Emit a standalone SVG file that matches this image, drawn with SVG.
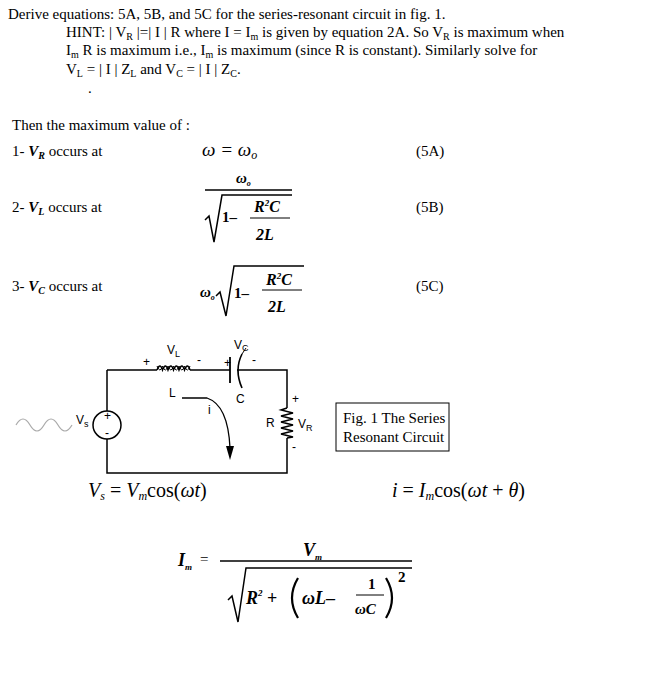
<svg xmlns="http://www.w3.org/2000/svg" width="666" height="679" viewBox="0 0 666 679">
<style>
.t{font-family:"Liberation Serif",serif;font-size:15px;fill:#000}
.m{font-family:"Liberation Serif",serif;font-style:italic;font-weight:bold;fill:#000}
.n{font-family:"Liberation Serif",serif;font-style:italic;font-weight:normal;fill:#000}
.s{font-family:"Liberation Sans",sans-serif;font-size:12px;fill:#000}
.w{stroke:#000;stroke-width:1.5;fill:none}
</style>
<rect width="666" height="679" fill="#fff"/>
<g id="text">
<text class="t" x="8" y="19">Derive equations: 5A, 5B, and 5C for the series-resonant circuit in fig. 1.</text>
<text class="t" x="66" y="37">HINT: | V<tspan font-size="10" dy="3">R</tspan><tspan dy="-3"> |=| I | R where I = I</tspan><tspan font-size="10" dy="3">m</tspan><tspan dy="-3"> is given by equation 2A. So V</tspan><tspan font-size="10" dy="3">R</tspan><tspan dy="-3"> is maximum when</tspan></text>
<text class="t" x="66" y="55">I<tspan font-size="10" dy="3">m</tspan><tspan dy="-3"> R is maximum i.e., I</tspan><tspan font-size="10" dy="3">m</tspan><tspan dy="-3"> is maximum (since R is constant). Similarly solve for</tspan></text>
<text class="t" x="66" y="74">V<tspan font-size="10" dy="3">L</tspan><tspan dy="-3"> = | I | Z</tspan><tspan font-size="10" dy="3">L</tspan><tspan dy="-3"> and V</tspan><tspan font-size="10" dy="3">C</tspan><tspan dy="-3"> = | I | Z</tspan><tspan font-size="10" dy="3">C</tspan><tspan dy="-3">.</tspan></text>
<text class="t" x="88" y="93">.</text>
<text class="t" x="12" y="130">Then the maximum value of :</text>
<text class="t" x="12" y="156">1- <tspan font-style="italic" font-weight="bold">V<tspan font-size="10" dy="3">R</tspan></tspan><tspan dy="-3"> occurs at</tspan></text>
<text class="t" x="12" y="212">2- <tspan font-style="italic" font-weight="bold">V<tspan font-size="10" dy="3">L</tspan></tspan><tspan dy="-3"> occurs at</tspan></text>
<text class="t" x="12" y="291">3- <tspan font-style="italic" font-weight="bold">V<tspan font-size="10" dy="3">C</tspan></tspan><tspan dy="-3"> occurs at</tspan></text>
<text class="t" x="416" y="156">(5A)</text>
<text class="t" x="416" y="212">(5B)</text>
<text class="t" x="416" y="291">(5C)</text>
</g>
<g id="eqA"><text class="n" x="202" y="156" font-size="19">ω = ω<tspan font-size="12" dy="3">o</tspan></text></g>
<g id="eqB">
<text class="m" x="236" y="183" font-size="15">ω<tspan font-size="8" dy="3">o</tspan></text>
<line x1="205" y1="190" x2="292" y2="190" stroke="#000" stroke-width="1.3"/>
<polyline points="205,220 209,216 214,242 222,195 292,195" class="w" stroke-width="1.2"/>
<text class="t" x="222" y="222" font-size="18" font-weight="bold">1–</text>
<text class="m" x="254" y="212" font-size="16">R<tspan font-size="9" dy="-6">2</tspan><tspan dy="6">C</tspan></text>
<line x1="250" y1="218" x2="290" y2="218" stroke="#000" stroke-width="1"/>
<text class="m" x="256" y="240" font-size="16">2L</text>
</g>
<g id="eqC">
<text class="m" x="200" y="297" font-size="15">ω<tspan font-size="8" dy="3">o</tspan></text>
<polyline points="216,296 220,292 226,316 234,266 304,266" class="w" stroke-width="1.2"/>
<text class="t" x="234" y="298" font-size="18" font-weight="bold">1–</text>
<text class="m" x="266" y="285" font-size="16">R<tspan font-size="9" dy="-6">2</tspan><tspan dy="6">C</tspan></text>
<line x1="262" y1="290" x2="302" y2="290" stroke="#000" stroke-width="1"/>
<text class="m" x="268" y="312" font-size="16">2L</text>
</g>
<g id="connectors">
<path class="w" d="M107,370 H157 M190,370 H230 M237,370 H287 V408 M287,438 V473 H107 V439 M107,411 V370"/>
<path class="w" d="M157,370 q3,-8 5.5,0 q3,-8 5.5,0 q3,-8 5.5,0 q3,-8 5.5,0 q3,-8 5.5,0 q3,-8 5.5,0" stroke-width="1.3"/>
<path d="M157,366 q3,8 5.5,0 q3,8 5.5,0 q3,8 5.5,0 q3,8 5.5,0 q3,8 5.5,0 q3,8 5.5,0" fill="none" stroke="#000" stroke-width="1"/>
<line x1="230" y1="357" x2="230" y2="383" stroke="#000" stroke-width="1.8"/>
<path d="M242,354 Q234,370 242,388" fill="none" stroke="#000" stroke-width="1.6"/>
<path d="M242,354 L246,348" stroke="#000" stroke-width="1"/>
<polyline class="w" stroke-width="1.3" points="287,408 281,410 293,413 281,416 293,419 281,422 293,425 281,428 293,431 281,434 293,437 287,438"/>
<circle cx="107" cy="425" r="14" fill="#fff" stroke="#000" stroke-width="1.5"/>
<path d="M182,398 H207 Q228,405 230,448" fill="none" stroke="#000" stroke-width="1.3"/>
<path d="M226,446 L230,460 L234,446 Z" fill="#000"/>
<path d="M16,425 q7,-12 14,0 t14,0 t14,0 t14,0" fill="none" stroke="#aaa" stroke-width="1.2"/>
</g>
<g id="labels">
<text class="s" x="104" y="420" font-size="9">+</text>
<text class="s" x="105" y="437" font-size="9">-</text>
<text class="s" x="76" y="424">V<tspan font-size="9" dy="3">s</tspan></text>
<text class="s" x="143" y="366">+</text>
<text class="s" x="167" y="354">V<tspan font-size="9" dy="3">L</tspan></text>
<text class="s" x="197" y="364">-</text>
<text class="s" x="224" y="367" font-size="10">+</text>
<text class="s" x="252" y="364">-</text>
<text class="s" x="234" y="349" font-size="11">V<tspan font-size="9" dy="2">C</tspan></text>
<text class="s" x="169" y="397">L</text>
<text class="s" x="236" y="403">C</text>
<text class="s" x="208" y="414">i</text>
<text class="s" x="292" y="403">+</text>
<text class="s" x="266" y="427">R</text>
<text class="s" x="298" y="428">V<tspan font-size="9" dy="3">R</tspan></text>
<text class="s" x="292" y="451">-</text>
</g>
<g id="fig">
<rect x="336" y="403" width="113" height="48" fill="#fff" stroke="#000" stroke-width="1"/>
<text class="t" x="343" y="423" font-size="15">Fig. 1   The Series</text>
<text class="t" x="343" y="442" font-size="15">Resonant Circuit</text>
</g>
<g id="eqs">
<text class="n" x="88" y="497" font-size="20">V<tspan font-size="12" dy="3">s</tspan><tspan dy="-3" font-style="normal"> = </tspan>V<tspan font-size="12" dy="3">m</tspan><tspan dy="-3" font-style="normal">cos(</tspan>ωt<tspan font-style="normal">)</tspan></text>
<text class="n" x="392" y="497" font-size="20">i<tspan font-style="normal"> = </tspan>I<tspan font-size="12" dy="3">m</tspan><tspan dy="-3" font-style="normal">cos(</tspan>ωt<tspan font-style="normal"> + </tspan>θ<tspan font-style="normal">)</tspan></text>
</g>
<g id="eqIm">
<text class="m" x="178" y="566" font-size="18">I<tspan font-size="9" dy="4">m</tspan></text>
<text class="t" x="200" y="564" font-size="18">=</text>
<text class="m" x="303" y="556" font-size="18">V<tspan font-size="9" dy="4">m</tspan></text>
<line x1="220" y1="561" x2="412" y2="561" stroke="#000" stroke-width="1.3"/>
<polyline class="w" stroke-width="1.2" points="228,600 232,596 238,622 246,568 412,568"/>
<text class="m" x="246" y="604" font-size="18">R<tspan font-size="9" dy="-8">2</tspan><tspan dy="8" font-style="normal"> +</tspan></text>
<path d="M298,578 Q286,598 298,618" fill="none" stroke="#000" stroke-width="2.2"/>
<text class="m" x="302" y="604" font-size="18">ωL<tspan font-style="normal">–</tspan></text>
<text class="t" x="368" y="589" font-size="15" font-weight="bold">1</text>
<line x1="356" y1="595" x2="384" y2="595" stroke="#000" stroke-width="1"/>
<text class="m" x="355" y="614" font-size="15">ωC</text>
<path d="M386,578 Q398,598 386,618" fill="none" stroke="#000" stroke-width="2.2"/>
<text class="t" x="398" y="582" font-size="10" font-weight="bold">2</text>
</g>
</svg>
